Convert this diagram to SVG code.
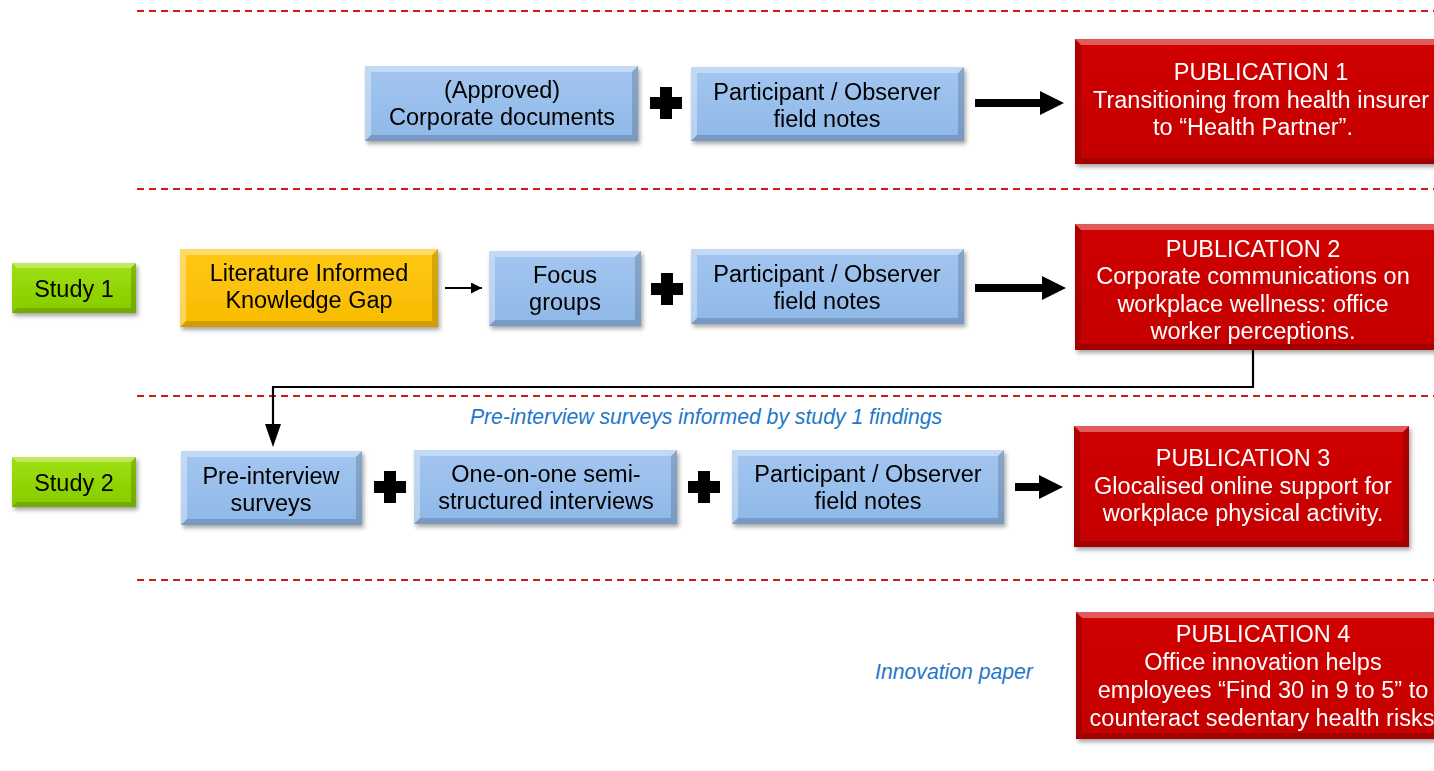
<svg xmlns="http://www.w3.org/2000/svg" width="1434" height="771" viewBox="0 0 1434 771">
  <defs>
    <filter id="shadow" x="-10%" y="-20%" width="130%" height="150%">
      <feDropShadow dx="2" dy="3" stdDeviation="2.2" flood-color="#000" flood-opacity="0.35"/>
    </filter>
    <linearGradient id="gBlue" x1="0" y1="0" x2="0" y2="1">
      <stop offset="0" stop-color="#a3c6f0"/>
      <stop offset="1" stop-color="#8fb8e8"/>
    </linearGradient>
    <linearGradient id="gYellow" x1="0" y1="0" x2="0" y2="1">
      <stop offset="0" stop-color="#ffc814"/>
      <stop offset="1" stop-color="#f8bc00"/>
    </linearGradient>
    <linearGradient id="gGreen" x1="0" y1="0" x2="0" y2="1">
      <stop offset="0" stop-color="#9ee00c"/>
      <stop offset="1" stop-color="#86cc00"/>
    </linearGradient>
    <linearGradient id="gRed" x1="0" y1="0" x2="0" y2="1">
      <stop offset="0" stop-color="#d00404"/>
      <stop offset="1" stop-color="#c40000"/>
    </linearGradient>
    <marker id="headS" viewBox="0 0 10 10" refX="10" refY="5" markerWidth="5" markerHeight="5" orient="auto" markerUnits="strokeWidth">
      <path d="M0,0 L10,5 L0,10 Z" fill="#000"/>
    </marker>
  </defs>
  <style>
    .sep { stroke:#d01818; stroke-width:2; stroke-dasharray:7 5; fill:none; }
    .box { filter:url(#shadow); }
    .hl { fill:#ffffff; opacity:0.35; }
    .lo { fill:#000000; opacity:0.16; }
    .t { font-family:"Liberation Sans", Arial, sans-serif; font-size:23.5px; fill:#000; text-anchor:middle; }
    .tw { font-family:"Liberation Sans", Arial, sans-serif; font-size:23.5px; fill:#fff; text-anchor:middle; }
    .note { font-family:"Liberation Sans", Arial, sans-serif; font-size:21.2px; font-style:italic; fill:#1f78c8; text-anchor:middle; }
    .plus { fill:#000; }
    .conn { stroke:#000; stroke-width:2.2; fill:none; }
  </style>

  <rect width="1434" height="771" fill="#ffffff"/>

  <!-- section separators -->
  <g id="separators">
    <line class="sep" x1="137" y1="11" x2="1434" y2="11"/>
    <line class="sep" x1="137" y1="189" x2="1434" y2="189"/>
    <line class="sep" x1="137" y1="396" x2="1434" y2="396"/>
    <line class="sep" x1="137" y1="580" x2="1434" y2="580"/>
  </g>

  <!-- connectors -->
  <g id="connectors">
    <!-- thick arrows into publications -->
    <path d="M975,99 H1040 V91 L1064,103 L1040,115 V107 H975 Z" fill="#000"/>
    <path d="M975,284 H1042 V276 L1066,288 L1042,300 V292 H975 Z" fill="#000"/>
    <path d="M1015,483 H1039 V475 L1063,487 L1039,499 V491 H1015 Z" fill="#000"/>
    <!-- thin arrow from knowledge gap to focus groups -->
    <line class="conn" x1="445" y1="288" x2="482" y2="288" marker-end="url(#headS)"/>
    <!-- study 1 findings feed study 2 surveys -->
    <polyline class="conn" points="1253,350 1253,387 273,387 273,426"/>
    <path d="M265,424 L281,424 L273,447 Z" fill="#000"/>
    <!-- plus signs -->
    <path class="plus" d="M660,87 h12 v10 h10 v12 h-10 v10 h-12 v-10 h-10 v-12 h10 Z"/>
    <path class="plus" d="M661,273 h12 v10 h10 v12 h-10 v10 h-12 v-10 h-10 v-12 h10 Z"/>
    <path class="plus" d="M384,471 h12 v10 h10 v12 h-10 v10 h-12 v-10 h-10 v-12 h10 Z"/>
    <path class="plus" d="M698,471 h12 v10 h10 v12 h-10 v10 h-12 v-10 h-10 v-12 h10 Z"/>
  </g>

  <!-- row 1 -->
  <g id="corporate-documents" class="box">
    <rect x="365" y="66" width="273" height="75" fill="url(#gBlue)"/>
    <polygon class="hl" points="365,66 638,66 632,72 371,72"/>
    <polygon class="hl" points="365,66 371,72 371,135 365,141" opacity="0.2"/>
    <polygon class="lo" points="638,66 638,141 632,135 632,72"/>
    <polygon class="lo" points="365,141 638,141 632,135 371,135"/>
    <text class="t" x="502" y="98">(Approved)</text>
    <text class="t" x="502" y="125">Corporate documents</text>
  </g>
  <g id="field-notes-1" class="box">
    <rect x="691" y="67" width="273" height="74" fill="url(#gBlue)"/>
    <polygon class="hl" points="691,67 964,67 958,73 697,73"/>
    <polygon class="hl" points="691,67 697,73 697,135 691,141" opacity="0.2"/>
    <polygon class="lo" points="964,67 964,141 958,135 958,73"/>
    <polygon class="lo" points="691,141 964,141 958,135 697,135"/>
    <text class="t" x="827" y="100">Participant / Observer</text>
    <text class="t" x="827" y="127">field notes</text>
  </g>
  <g id="publication-1" class="box">
    <rect x="1075" y="39" width="370" height="125" fill="url(#gRed)"/>
    <polygon class="hl" points="1075,39 1445,39 1439,45 1081,45" opacity="0.1"/>
    <polygon class="lo" points="1075,39 1081,45 1081,158 1075,164"/>
    <polygon class="lo" points="1075,164 1445,164 1439,158 1081,158"/>
    <text class="tw" x="1261" y="80">PUBLICATION 1</text>
    <text class="tw" x="1261" y="108">Transitioning from health insurer</text>
    <text class="tw" x="1253" y="135">to “Health Partner”.</text>
  </g>

  <!-- row 2: study 1 -->
  <g id="study-1" class="box">
    <rect x="12" y="263" width="124" height="50" fill="url(#gGreen)"/>
    <polygon class="hl" points="12,263 136,263 131,268 17,268"/>
    <polygon class="lo" points="136,263 136,313 131,308 131,268"/>
    <polygon class="lo" points="12,313 136,313 131,308 17,308"/>
    <text class="t" x="74" y="297">Study 1</text>
  </g>
  <g id="knowledge-gap" class="box">
    <rect x="180" y="249" width="258" height="78" fill="url(#gYellow)"/>
    <polygon class="hl" points="180,249 438,249 432,255 186,255"/>
    <polygon class="hl" points="180,249 186,255 186,321 180,327" opacity="0.2"/>
    <polygon class="lo" points="438,249 438,327 432,321 432,255"/>
    <polygon class="lo" points="180,327 438,327 432,321 186,321"/>
    <text class="t" x="309" y="281">Literature Informed</text>
    <text class="t" x="309" y="308">Knowledge Gap</text>
  </g>
  <g id="focus-groups" class="box">
    <rect x="489" y="251" width="152" height="75" fill="url(#gBlue)"/>
    <polygon class="hl" points="489,251 641,251 635,257 495,257"/>
    <polygon class="hl" points="489,251 495,257 495,320 489,326" opacity="0.2"/>
    <polygon class="lo" points="641,251 641,326 635,320 635,257"/>
    <polygon class="lo" points="489,326 641,326 635,320 495,320"/>
    <text class="t" x="565" y="283">Focus</text>
    <text class="t" x="565" y="310">groups</text>
  </g>
  <g id="field-notes-2" class="box">
    <rect x="691" y="249" width="273" height="75" fill="url(#gBlue)"/>
    <polygon class="hl" points="691,249 964,249 958,255 697,255"/>
    <polygon class="hl" points="691,249 697,255 697,318 691,324" opacity="0.2"/>
    <polygon class="lo" points="964,249 964,324 958,318 958,255"/>
    <polygon class="lo" points="691,324 964,324 958,318 697,318"/>
    <text class="t" x="827" y="282">Participant / Observer</text>
    <text class="t" x="827" y="309">field notes</text>
  </g>
  <g id="publication-2" class="box">
    <rect x="1075" y="224" width="370" height="126" fill="url(#gRed)"/>
    <polygon class="hl" points="1075,224 1445,224 1439,230 1081,230" opacity="0.1"/>
    <polygon class="lo" points="1075,224 1081,230 1081,344 1075,350"/>
    <polygon class="lo" points="1075,350 1445,350 1439,344 1081,344"/>
    <text class="tw" x="1253" y="257">PUBLICATION 2</text>
    <text class="tw" x="1253" y="284">Corporate communications on</text>
    <text class="tw" x="1253" y="312">workplace wellness: office</text>
    <text class="tw" x="1253" y="339">worker perceptions.</text>
  </g>

  <text class="note" x="706" y="424">Pre-interview surveys informed by study 1 findings</text>

  <!-- row 3: study 2 -->
  <g id="study-2" class="box">
    <rect x="12" y="457" width="124" height="50" fill="url(#gGreen)"/>
    <polygon class="hl" points="12,457 136,457 131,462 17,462"/>
    <polygon class="lo" points="136,457 136,507 131,502 131,462"/>
    <polygon class="lo" points="12,507 136,507 131,502 17,502"/>
    <text class="t" x="74" y="491">Study 2</text>
  </g>
  <g id="pre-interview-surveys" class="box">
    <rect x="181" y="451" width="181" height="74" fill="url(#gBlue)"/>
    <polygon class="hl" points="181,451 362,451 356,457 187,457"/>
    <polygon class="hl" points="181,451 187,457 187,519 181,525" opacity="0.2"/>
    <polygon class="lo" points="362,451 362,525 356,519 356,457"/>
    <polygon class="lo" points="181,525 362,525 356,519 187,519"/>
    <text class="t" x="271" y="484">Pre-interview</text>
    <text class="t" x="271" y="511">surveys</text>
  </g>
  <g id="interviews" class="box">
    <rect x="414" y="450" width="263" height="74" fill="url(#gBlue)"/>
    <polygon class="hl" points="414,450 677,450 671,456 420,456"/>
    <polygon class="hl" points="414,450 420,456 420,518 414,524" opacity="0.2"/>
    <polygon class="lo" points="677,450 677,524 671,518 671,456"/>
    <polygon class="lo" points="414,524 677,524 671,518 420,518"/>
    <text class="t" x="546" y="482">One-on-one semi-</text>
    <text class="t" x="546" y="509">structured interviews</text>
  </g>
  <g id="field-notes-3" class="box">
    <rect x="732" y="450" width="272" height="74" fill="url(#gBlue)"/>
    <polygon class="hl" points="732,450 1004,450 998,456 738,456"/>
    <polygon class="hl" points="732,450 738,456 738,518 732,524" opacity="0.2"/>
    <polygon class="lo" points="1004,450 1004,524 998,518 998,456"/>
    <polygon class="lo" points="732,524 1004,524 998,518 738,518"/>
    <text class="t" x="868" y="482">Participant / Observer</text>
    <text class="t" x="868" y="509">field notes</text>
  </g>
  <g id="publication-3" class="box">
    <rect x="1074" y="426" width="335" height="121" fill="url(#gRed)"/>
    <polygon class="hl" points="1074,426 1409,426 1403,432 1080,432" opacity="0.1"/>
    <polygon class="lo" points="1074,426 1080,432 1080,541 1074,547"/>
    <polygon class="lo" points="1409,426 1409,547 1403,541 1403,432"/>
    <polygon class="lo" points="1074,547 1409,547 1403,541 1080,541"/>
    <text class="tw" x="1243" y="466">PUBLICATION 3</text>
    <text class="tw" x="1243" y="494">Glocalised online support for</text>
    <text class="tw" x="1243" y="521">workplace physical activity.</text>
  </g>

  <!-- row 4 -->
  <text class="note" x="954" y="679">Innovation paper</text>
  <g id="publication-4" class="box">
    <rect x="1076" y="612" width="370" height="127" fill="url(#gRed)"/>
    <polygon class="hl" points="1076,612 1446,612 1440,618 1082,618" opacity="0.1"/>
    <polygon class="lo" points="1076,612 1082,618 1082,733 1076,739"/>
    <polygon class="lo" points="1076,739 1446,739 1440,733 1082,733"/>
    <text class="tw" x="1263" y="642">PUBLICATION 4</text>
    <text class="tw" x="1263" y="670">Office innovation helps</text>
    <text class="tw" x="1263" y="698">employees “Find 30 in 9 to 5” to</text>
    <text class="tw" x="1262" y="726">counteract sedentary health risks</text>
  </g>
</svg>
